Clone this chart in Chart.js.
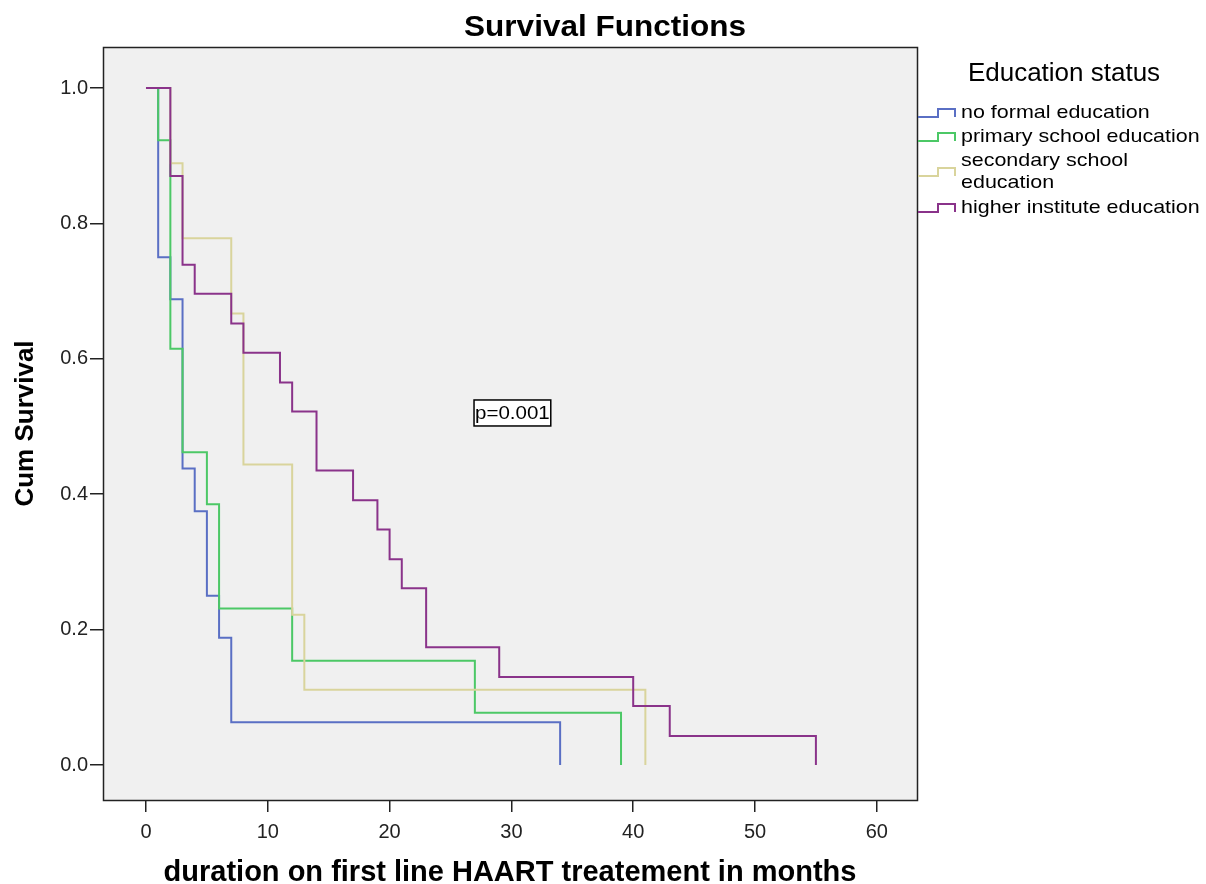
<!DOCTYPE html>
<html>
<head>
<meta charset="utf-8">
<script src="https://cdn.jsdelivr.net/npm/chart.js@4/dist/chart.umd.min.js"></script>
<style>
  html, body { margin: 0; padding: 0; background: #fff; }
  #wrap { width: 1206px; height: 884px; position: relative; }
</style>
</head>
<body>
<div id="wrap"><canvas id="grafico"></canvas></div>
<script>
// curvas Kaplan-Meier (meses, supervivencia acumulada)
const grupos = ["no formal education", "primary school education", "secondary school education", "higher institute education"];
const leyendaLineas = [["no formal education"], ["primary school education"], ["secondary school", "education"], ["higher institute education"]];
const colores = ["#5a6fc4", "#4cc866", "#d9d49c", "#8a338a"];
const ordenDibujo = [3, 2, 1, 0]; // el morado queda encima

const tiemposSinEdu = [0, 1, 2, 3, 4, 5, 6, 7, 34];
const survSinEdu = [1.0, 0.750, 0.688, 0.438, 0.375, 0.250, 0.188, 0.063, 0.0];

const tiemposPrimaria = [0, 1, 2, 3, 5, 6, 12, 27, 39];
const survPrimaria = [1.0, 0.923, 0.615, 0.462, 0.385, 0.231, 0.154, 0.077, 0.0];

const tiemposSecundaria = [0, 2, 3, 7, 8, 12, 13, 41];
const survSecundaria = [1.0, 0.889, 0.778, 0.667, 0.444, 0.222, 0.111, 0.0];

const tiemposSuperior = [0, 2, 3, 4, 7, 8, 11, 12, 14, 17, 19, 20, 21, 23, 29, 40, 43, 55];
const survSuperior = [1.0, 0.870, 0.739, 0.696, 0.652, 0.609, 0.565, 0.522, 0.435, 0.391, 0.348, 0.304, 0.261, 0.174, 0.130, 0.087, 0.043, 0.0];

const ticksX = [0, 10, 20, 30, 40, 50, 60];
const ticksY = [0.0, 0.2, 0.4, 0.6, 0.8, 1.0];

const pTexto = "p=0.001";
const pPos = { x: 30, y: 0.52 };

const series = [
  [tiemposSinEdu, survSinEdu],
  [tiemposPrimaria, survPrimaria],
  [tiemposSecundaria, survSecundaria],
  [tiemposSuperior, survSuperior]
];

const fuente = "'Liberation Sans', Arial, sans-serif";

// texto estirado en horizontal (el original está ensanchado)
function textoAncho(ctx, t, x, y, sx) {
  ctx.save();
  ctx.translate(x, y);
  ctx.scale(sx, 1);
  ctx.fillText(t, 0, 0);
  ctx.restore();
}

// fondo gris del área y marco
const marcoPlugin = {
  id: "marco",
  beforeDraw(chart) {
    const { ctx, chartArea: a } = chart;
    ctx.save();
    ctx.fillStyle = "#f0f0f0";
    ctx.fillRect(a.left, a.top, a.right - a.left, a.bottom - a.top);
    ctx.restore();
  },
  afterDraw(chart) {
    const { ctx, chartArea: a } = chart;
    ctx.save();
    ctx.strokeStyle = "#222";
    ctx.lineWidth = 1.5;
    ctx.strokeRect(a.left + 0.5, a.top + 0.5, a.right - a.left, a.bottom - a.top);
    ctx.restore();
  }
};

// título, leyenda con iconos escalonados y cuadro del p-valor
const textosPlugin = {
  id: "textos",
  afterDraw(chart) {
    const { ctx, scales } = chart;
    ctx.save();
    ctx.fillStyle = "#000";
    ctx.textBaseline = "middle";
    ctx.textAlign = "center";
    ctx.font = "bold 30px " + fuente;
    textoAncho(ctx, "Survival Functions", 605, 28, 1.05);

    ctx.font = "25px " + fuente;
    textoAncho(ctx, "Education status", 1064, 74, 1.04);

    ctx.textAlign = "left";
    ctx.font = "19px " + fuente;
    let y = 113;
    leyendaLineas.forEach((lineas, i) => {
      const yIcono = lineas.length > 1 ? y + 11 : y;
      ctx.strokeStyle = colores[i];
      ctx.lineWidth = 2;
      ctx.beginPath();
      ctx.moveTo(918, yIcono + 4);
      ctx.lineTo(938, yIcono + 4);
      ctx.lineTo(938, yIcono - 4);
      ctx.lineTo(955, yIcono - 4);
      ctx.lineTo(955, yIcono + 4);
      ctx.stroke();
      lineas.forEach((t, k) => {
        ctx.fillStyle = "#000";
        textoAncho(ctx, t, 961, y + k * 22, 1.13);
      });
      y += lineas.length > 1 ? 47 : 24;
    });

    // cuadro p
    const px = scales.x.getPixelForValue(pPos.x);
    const py = scales.y.getPixelForValue(pPos.y);
    ctx.font = "19px " + fuente;
    const w = ctx.measureText(pTexto).width * 1.08;
    ctx.textAlign = "center";
    ctx.fillStyle = "#fff";
    ctx.fillRect(px - w / 2, py - 13, w + 2, 26);
    ctx.strokeStyle = "#000";
    ctx.lineWidth = 1.5;
    ctx.strokeRect(px - w / 2, py - 13, w + 2, 26);
    ctx.fillStyle = "#000";
    textoAncho(ctx, pTexto, px + 1, py + 1, 1.08);
    ctx.restore();
  }
};

const datasets = series.map(([t, s], i) => ({
  label: grupos[i],
  data: t.map((x, k) => ({ x, y: s[k] })),
  borderColor: colores[i],
  borderWidth: 2,
  stepped: "before",
  pointRadius: 0,
  fill: false,
  order: ordenDibujo[i]
}));

new Chart(document.getElementById("grafico"), {
  type: "line",
  data: { datasets },
  options: {
    responsive: true,
    maintainAspectRatio: false,
    animation: false,
    layout: { padding: { left: 0, right: 289, top: 47, bottom: 0 } },
    plugins: {
      legend: { display: false },
      tooltip: { enabled: false },
      title: { display: false }
    },
    scales: {
      x: {
        type: "linear",
        min: -3.53,
        max: 63.3,
        afterBuildTicks: (s) => { s.ticks = ticksX.map(v => ({ value: v })); },
        afterFit: (s) => { s.height = 84; },
        grid: { drawOnChartArea: false, drawTicks: true, tickLength: 12, color: "#222", lineWidth: 1.5 },
        border: { display: false },
        ticks: { color: "#222", padding: 8, font: { size: 20, family: fuente } },
        title: {
          display: true,
          text: "duration on first line HAART treatement in months",
          color: "#000",
          font: { size: 29, weight: "bold", family: fuente },
          padding: { top: 14, bottom: -6 }
        }
      },
      y: {
        type: "linear",
        min: -0.0517,
        max: 1.0606,
        afterBuildTicks: (s) => { s.ticks = ticksY.map(v => ({ value: v })); },
        afterFit: (s) => { s.width = 103; },
        grid: { drawOnChartArea: false, drawTicks: true, tickLength: 13, color: "#222", lineWidth: 1.5 },
        border: { display: false },
        ticks: { color: "#222", padding: 2, font: { size: 20, family: fuente }, callback: v => v.toFixed(1) },
        title: {
          display: true,
          text: "Cum Survival",
          color: "#000",
          font: { size: 26, weight: "bold", family: fuente },
          padding: { top: 10, bottom: 0 }
        }
      }
    }
  },
  plugins: [marcoPlugin, textosPlugin]
});
</script>
</body>
</html>
